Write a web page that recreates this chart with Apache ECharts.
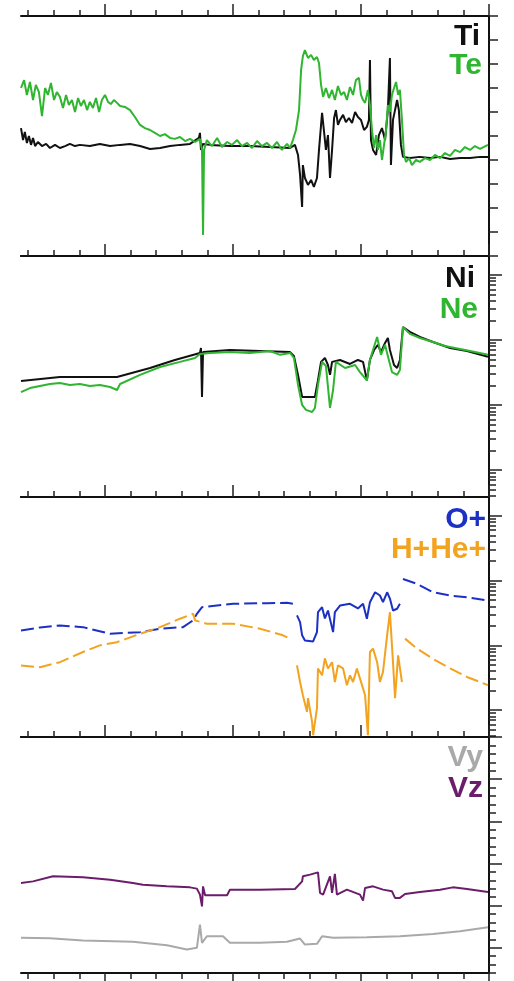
<!DOCTYPE html>
<html>
<head>
<meta charset="utf-8">
<script src="https://cdn.jsdelivr.net/npm/echarts@6/dist/echarts.min.js"></script>
<style>
html, body { margin: 0; padding: 0; background: #fff; }
#chart { width: 514px; height: 981px; }
</style>
</head>
<body>
<div id="chart"></div>
<script>
// time axis (hours from the first long tick)
var xMin = -3.28, xMax = 15;
var xMinorTicks = [-3,-2,-1,0,1,2,3,4,5,6,7,8,9,10,11,12,13,14,15];
var xMajorTicks = [0,5,10,15];
// density panels (log)
var logMin = 0.385, logMax = 1950;
var logMajorTicks = [1,10,100,1000];
var logMinorTicks = [0.4,0.5,0.6,0.7,0.8,0.9,2,3,4,5,6,7,8,9,20,30,40,50,60,70,80,90,200,300,400,500,600,700,800,900];
// velocity panel
var vMajorTicks = [0,5,10,15,20,25];
var vMinorTicks = [-3,-2,-1,1,2,3,4,6,7,8,9,11,12,13,14,16,17,18,19,21,22,23,24];

// panel 1 : temperatures
var ti = [[-3.28,5.33],[-3.20,4.83],[-3.13,5.17],[-3.05,4.71],[-2.97,5.0],[-2.89,4.63],[-2.81,4.92],[-2.73,4.58],[-2.62,4.75],[-2.46,4.58],[-2.30,4.67],[-2.15,4.5],[-1.95,4.63],[-1.76,4.5],[-1.56,4.58],[-1.37,4.67],[-1.17,4.58],[-0.98,4.63],[-0.59,4.58],[-0.20,4.67],[0.20,4.58],[0.59,4.63],[0.98,4.67],[1.37,4.58],[1.76,4.46],[2.15,4.5],[2.54,4.58],[2.93,4.63],[3.32,4.67],[3.67,4.92],[3.71,5.13],[3.75,4.42],[3.83,4.67],[4.10,4.63],[4.88,4.58],[5.66,4.58],[6.45,4.54],[7.23,4.5],[7.42,4.63],[7.54,4.21],[7.62,3.38],[7.70,2.04],[7.73,3.79],[7.81,3.25],[7.93,2.96],[8.05,3.17],[8.16,2.88],[8.28,3.25],[8.36,4.42],[8.44,5.46],[8.48,5.96],[8.55,5.25],[8.63,4.42],[8.71,5.04],[8.79,3.25],[8.87,4.42],[8.95,5.75],[9.02,6.08],[9.10,5.46],[9.18,5.67],[9.30,5.88],[9.41,5.58],[9.53,5.75],[9.65,5.54],[9.77,6.0],[9.88,5.79],[10.00,5.67],[10.12,5.25],[10.23,5.38],[10.31,5.67],[10.35,8.17],[10.39,4.83],[10.47,4.42],[10.59,4.21],[10.70,5.04],[10.82,5.33],[10.94,4.83],[11.05,6.08],[11.13,8.25],[11.17,3.79],[11.25,5.67],[11.33,6.08],[11.41,6.5],[11.48,6.08],[11.56,4.63],[11.64,4.13],[11.91,4.08],[12.30,4.13],[12.70,4.08],[13.09,4.13],[13.48,4.04],[13.87,4.08],[14.26,4.08],[14.65,4.13],[14.96,4.13]];
var te = [[-3.28,7.0],[-3.16,7.33],[-3.05,6.71],[-2.93,7.25],[-2.81,6.5],[-2.70,7.13],[-2.58,6.83],[-2.46,5.83],[-2.34,7.0],[-2.23,6.71],[-2.11,7.21],[-1.99,6.5],[-1.88,6.83],[-1.76,6.63],[-1.64,6.17],[-1.52,6.71],[-1.41,6.29],[-1.29,6.5],[-1.17,6.0],[-1.05,6.58],[-0.94,6.25],[-0.82,6.5],[-0.70,6.08],[-0.59,6.42],[-0.47,6.17],[-0.35,6.58],[-0.23,6.0],[-0.12,6.5],[0,6.71],[0.12,6.42],[0.23,6.33],[0.35,6.5],[0.47,6.38],[0.59,6.25],[0.78,6.21],[0.98,6.08],[1.17,5.79],[1.37,5.46],[1.56,5.33],[1.76,5.25],[1.95,5.13],[2.15,5.0],[2.34,5.08],[2.54,4.92],[2.73,4.88],[2.93,4.96],[3.13,4.79],[3.32,4.88],[3.52,4.75],[3.71,4.88],[3.79,4.42],[3.83,0.88],[3.87,4.42],[3.98,4.83],[4.18,4.58],[4.38,4.92],[4.57,4.54],[4.77,4.75],[4.96,4.63],[5.16,4.83],[5.35,4.58],[5.55,4.71],[5.74,4.5],[5.94,4.79],[6.13,4.58],[6.33,4.71],[6.52,4.5],[6.72,4.75],[6.91,4.42],[7.11,4.67],[7.23,4.5],[7.34,4.83],[7.46,5.25],[7.58,6.08],[7.66,7.75],[7.73,8.33],[7.81,8.58],[7.93,8.25],[8.05,8.38],[8.16,8.17],[8.28,8.29],[8.36,8.04],[8.44,7.13],[8.52,6.63],[8.63,7.0],[8.75,6.58],[8.87,6.92],[8.98,6.5],[9.10,7.08],[9.22,6.71],[9.34,6.83],[9.45,6.5],[9.57,7.04],[9.69,6.71],[9.80,7.33],[9.92,7.42],[10.00,6.71],[10.08,6.5],[10.16,6.38],[10.27,6.92],[10.35,6.29],[10.43,5.25],[10.51,4.5],[10.59,5.04],[10.66,4.42],[10.74,4.83],[10.82,4.0],[10.90,4.63],[10.98,5.25],[11.05,6.29],[11.13,6.0],[11.21,6.71],[11.29,7.0],[11.37,7.25],[11.45,6.71],[11.52,6.92],[11.60,5.67],[11.68,4.21],[11.76,3.92],[11.88,4.08],[11.99,3.79],[12.15,4.0],[12.30,3.92],[12.50,4.08],[12.70,4.0],[12.89,4.21],[13.09,4.08],[13.28,4.29],[13.48,4.17],[13.67,4.42],[13.87,4.33],[14.06,4.54],[14.26,4.42],[14.45,4.58],[14.65,4.46],[14.96,4.63]];

// panel 2 : densities
var ni = [[-3.28,23.4],[-1.76,27],[0.47,27],[1.76,37],[2.73,49.2],[3.71,63],[3.75,75],[3.79,13.3],[3.83,65],[4.88,70],[6.05,67.7],[7.23,65],[7.38,56.8],[7.54,29],[7.70,13.3],[8.20,13.3],[8.32,24],[8.44,46],[8.59,52.8],[8.71,41.2],[8.79,29],[8.87,46],[9.18,49.2],[9.57,42.7],[9.88,49.2],[10.08,46],[10.23,24],[10.35,49.2],[10.51,70],[10.66,83.8],[10.78,65],[10.94,90],[11.05,107],[11.13,70],[11.29,41.2],[11.41,37],[11.52,49.2],[11.64,158],[11.91,133],[12.30,111],[12.81,93],[13.48,75],[14.14,67.7],[14.96,55]];
var ne = [[-3.28,15.8],[-2.93,18.2],[-2.54,19.6],[-2.15,21.0],[-1.76,21.8],[-1.37,20.3],[-0.98,21.0],[-0.59,19.6],[-0.20,20.3],[0.20,18.9],[0.47,17.0],[0.59,21.0],[1.37,29],[2.15,38.4],[2.93,46],[3.52,52.8],[3.71,60.8],[4.10,63],[4.88,65],[5.66,63],[6.45,67.7],[6.84,59],[7.23,63],[7.38,52.8],[7.54,20.3],[7.70,10.0],[7.85,8.4],[8.09,7.8],[8.20,9.0],[8.32,20.3],[8.48,46],[8.63,39.8],[8.79,9.0],[8.91,17.0],[9.02,46],[9.38,37],[9.77,41.2],[9.96,32],[10.23,24],[10.35,49.2],[10.47,70],[10.63,111],[10.78,59],[10.94,83.8],[11.09,49.2],[11.21,32],[11.41,29],[11.52,34.5],[11.64,158],[11.91,124],[12.30,107],[12.81,93],[13.28,80.8],[13.87,72.6],[14.45,65],[14.96,59]];

// panel 3 : ion densities (model = dashed, observed = solid)
var oPlusModelA = [[-3.28,17.0],[-2.54,18.9],[-1.76,20.3],[-0.86,19.1],[0.20,15.1],[1.37,16.0],[2.15,18.1],[3.05,19.1],[3.44,24.3],[3.59,30.7],[3.79,38.8],[5.0,43.8],[6.33,44.8],[7.11,45.4],[7.34,43.8]];
var oPlusObs = [[7.5,29.0],[7.62,22.8],[7.70,14.3],[7.81,11.9],[8.13,11.5],[8.28,16.0],[8.32,32.5],[8.48,38.8],[8.59,26.0],[8.71,34.5],[8.91,16.0],[8.98,32.5],[9.18,41.2],[9.57,43.8],[9.88,37.1],[10.08,43.8],[10.23,25.8],[10.35,46.4],[10.55,66],[10.74,58.8],[10.86,46.4],[11.02,66],[11.13,52.8],[11.25,34.5],[11.41,36.7],[11.52,43.8]];
var oPlusModelB = [[11.64,106],[12.19,89],[12.81,66],[13.48,58.8],[14.14,55.3],[14.96,49.2]];
var hHeModelA = [[-3.28,4.9],[-2.54,4.6],[-1.76,5.5],[-0.86,7.9],[-0.20,10],[0.47,11.2],[1.37,15.1],[2.15,19.1],[2.93,25.8],[3.44,30.7],[3.52,24.3],[3.98,21.6],[5.0,21.6],[6.05,18.1],[6.95,14.3],[7.23,12.7]];
var hHeObs = [[7.5,4.9],[7.62,2.72],[7.73,1.70],[7.89,0.94],[7.93,1.53],[8.09,0.66],[8.13,0.41],[8.28,1.07],[8.32,4.4],[8.48,3.45],[8.59,6.3],[8.71,4.4],[8.87,5.5],[8.98,2.72],[9.10,4.9],[9.30,4.4],[9.45,2.43],[9.57,3.45],[9.69,2.72],[9.84,4.4],[10.04,2.43],[10.16,1.70],[10.27,0.41],[10.35,7.9],[10.47,8.9],[10.63,5.5],[10.74,2.72],[10.86,3.9],[11.02,14.3],[11.13,32.5],[11.25,5.5],[11.33,1.53],[11.45,7.0],[11.60,2.72]];
var hHeModelB = [[11.72,12.7],[12.19,8.9],[12.81,6.2],[13.48,4.4],[14.14,3.25],[14.96,2.43]];

// panel 4 : velocities
var vz = [[-3.28,7.68],[-2.81,7.87],[-2.03,8.47],[-0.86,8.35],[0.20,8.07],[1.09,7.68],[1.48,7.48],[2.42,7.28],[3.32,7.16],[3.59,7.01],[3.71,6.30],[3.79,4.91],[3.83,7.28],[3.91,6.22],[4.77,6.22],[4.88,6.89],[6.05,6.89],[7.42,6.97],[7.70,7.87],[7.73,8.47],[8.01,8.67],[8.32,8.94],[8.40,6.50],[8.52,6.30],[8.79,8.47],[8.87,6.50],[8.98,8.75],[9.06,6.30],[9.45,6.89],[9.96,6.30],[10.08,5.59],[10.16,7.09],[10.47,7.28],[10.86,6.89],[11.21,6.69],[11.33,5.91],[11.52,5.91],[11.72,6.38],[12.30,6.62],[13.09,6.89],[13.59,7.16],[14.14,6.97],[14.96,6.62]];
var vy = [[-3.28,1.17],[-2.15,1.12],[-0.86,0.85],[1.09,0.70],[2.42,0.30],[3.20,-0.21],[3.59,-0.01],[3.71,2.75],[3.79,0.58],[3.98,1.36],[4.61,1.36],[4.88,0.58],[6.05,0.58],[7.11,0.70],[7.62,1.09],[7.81,0.38],[8.28,0.46],[8.48,1.36],[8.91,1.17],[10.23,1.24],[11.52,1.36],[12.81,1.64],[13.87,1.95],[14.96,2.43]];

var cBlack = '#111111', cGreen = '#2fb52f', cBlue = '#1c31c4', cOrange = '#f2a31f', cGray = '#a9a9a9', cPurple = '#6b1d6c';

var gridTops = [16, 256, 497, 737];
var gridHeights = [240, 241, 240, 236];
var axisLineStyle = { color: '#111', width: 2 };
var tickStyle = { color: '#222', width: 1.5 };

var grids = gridTops.map(function (t, i) {
    return { left: 21, right: 25, top: t, height: gridHeights[i] };
});

var xAxes = [];
gridTops.forEach(function (t, g) {
    function ax(extra) {
        return Object.assign({
            type: 'value', gridIndex: g, min: xMin, max: xMax,
            axisLabel: { show: false }, splitLine: { show: false },
            axisLine: { show: false, onZero: false }, axisTick: { show: false }
        }, extra);
    }
    xAxes.push(ax({ position: 'bottom', axisLine: { show: true, onZero: false, lineStyle: axisLineStyle },
        axisTick: { show: g === 3, inside: false, length: 6, customValues: xMinorTicks, lineStyle: tickStyle } }));
    xAxes.push(ax({ position: 'top', axisLine: { show: true, onZero: false, lineStyle: axisLineStyle },
        axisTick: { show: true, inside: false, length: 6, customValues: xMinorTicks, lineStyle: tickStyle } }));
    xAxes.push(ax({ position: 'top',
        axisTick: { show: true, inside: false, length: 12, customValues: xMajorTicks, lineStyle: tickStyle } }));
    xAxes.push(ax({ position: 'bottom',
        axisTick: { show: g === 3, inside: false, length: 12, customValues: xMajorTicks, lineStyle: tickStyle } }));
});

function yAx(g, extra) {
    return Object.assign({
        type: 'value', gridIndex: g, position: 'right',
        axisLabel: { show: false }, splitLine: { show: false },
        axisLine: { show: false, onZero: false }, axisTick: { show: false }
    }, extra);
}
var yAxes = [];
// panel 1 (linear)
yAxes.push(yAx(0, { min: 0, max: 10, interval: 1,
    axisLine: { show: true, onZero: false, lineStyle: axisLineStyle },
    axisTick: { show: true, inside: false, length: 9, lineStyle: tickStyle } }));
yAxes.push(yAx(0, { show: false, min: 0, max: 10 }));
yAxes.push(yAx(0, { show: false, min: 0, max: 10 }));
// panels 2, 3 (log)
[1, 2].forEach(function (g) {
    yAxes.push(yAx(g, { type: 'log', logBase: 10, min: logMin, max: logMax,
        axisLine: { show: true, onZero: false, lineStyle: axisLineStyle } }));
    yAxes.push(yAx(g, { min: Math.log10(logMin), max: Math.log10(logMax),
        axisTick: { show: true, inside: false, length: 13, lineStyle: tickStyle,
            customValues: logMajorTicks.map(function (v) { return Math.log10(v); }) } }));
    yAxes.push(yAx(g, { min: Math.log10(logMin), max: Math.log10(logMax),
        axisTick: { show: true, inside: false, length: 7, lineStyle: tickStyle,
            customValues: logMinorTicks.map(function (v) { return Math.log10(v); }) } }));
});
// panel 4 (linear)
yAxes.push(yAx(3, { min: -3, max: 25,
    axisLine: { show: true, onZero: false, lineStyle: axisLineStyle },
    axisTick: { show: true, inside: false, length: 13, customValues: vMajorTicks, lineStyle: tickStyle } }));
yAxes.push(yAx(3, { min: -3, max: 25,
    axisTick: { show: true, inside: false, length: 7, customValues: vMinorTicks, lineStyle: tickStyle } }));
yAxes.push(yAx(3, { show: false, min: -3, max: 25 }));

function line(name, data, color, g, dashed) {
    return {
        name: name, type: 'line', data: data,
        xAxisIndex: 4 * g, yAxisIndex: 3 * g,
        showSymbol: false, symbol: 'none',
        lineStyle: { color: color, width: 2, type: dashed ? [13, 5] : 'solid' },
        itemStyle: { color: color }
    };
}

var series = [
    line('Ti', ti, cBlack, 0),
    line('Te', te, cGreen, 0),
    line('Ni', ni, cBlack, 1),
    line('Ne', ne, cGreen, 1),
    line('O+', oPlusModelA, cBlue, 2, true),
    line('O+', oPlusObs, cBlue, 2),
    line('O+', oPlusModelB, cBlue, 2, true),
    line('H+He+', hHeModelA, cOrange, 2, true),
    line('H+He+', hHeObs, cOrange, 2),
    line('H+He+', hHeModelB, cOrange, 2, true),
    line('Vz', vz, cPurple, 3),
    line('Vy', vy, cGray, 3)
];

var labels = [
    { text: 'Ti', color: cBlack, x: 480, y: 37 },
    { text: 'Te', color: cGreen, x: 482, y: 66 },
    { text: 'Ni', color: cBlack, x: 475, y: 279 },
    { text: 'Ne', color: cGreen, x: 478, y: 310 },
    { text: 'O+', color: cBlue, x: 486, y: 520 },
    { text: 'H+He+', color: cOrange, x: 486, y: 550 },
    { text: 'Vy', color: cGray, x: 483, y: 758 },
    { text: 'Vz', color: cPurple, x: 483, y: 789 }
];

var chart = echarts.init(document.getElementById('chart'));
chart.setOption({
    animation: false,
    backgroundColor: '#fff',
    grid: grids,
    xAxis: xAxes,
    yAxis: yAxes,
    series: series,
    graphic: labels.map(function (l) {
        return {
            type: 'text', x: l.x, y: l.y, z: 10,
            style: {
                text: l.text, fill: l.color,
                font: 'bold 30px "Liberation Sans", Arial, sans-serif',
                align: 'right', verticalAlign: 'middle',
                textAlign: 'right', textVerticalAlign: 'middle'
            }
        };
    })
});
</script>
</body>
</html>
